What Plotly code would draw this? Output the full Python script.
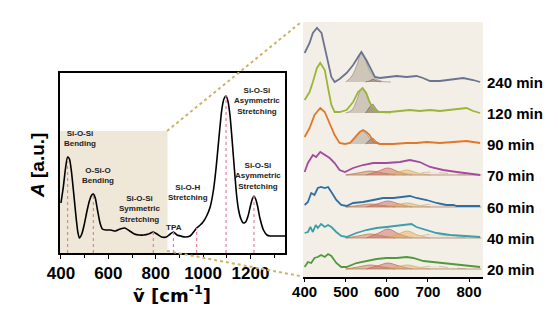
import plotly.graph_objects as go
import numpy as np

# ---------------- Left panel: full FTIR spectrum ----------------
spec_w = [400, 410, 420, 428, 436, 445, 455, 465, 472, 478, 488, 498, 510, 520, 530, 537, 545, 555, 565, 575,
          590, 610, 630, 650, 670, 690, 710, 730, 750, 770, 790, 805, 825, 845, 862, 875, 890, 905, 925, 945,
          960, 973, 988, 1000, 1015, 1030, 1044, 1055, 1065, 1079, 1088, 1097, 1105, 1114, 1121, 1128, 1135,
          1142, 1150, 1160, 1170, 1180, 1190, 1200, 1208, 1215, 1222, 1230, 1240, 1255, 1270, 1283, 1310, 1346]
spec_a = [50, 66, 86, 96, 94, 80, 57, 33, 20, 15, 19, 28, 42, 52, 58, 59, 55, 42, 30, 24,
          23, 23, 22, 24, 25, 22, 19, 18, 18, 19, 21, 19, 16, 16, 19, 21, 18, 17, 16, 17,
          21, 25, 28, 31, 37, 46, 63, 85, 110, 143, 154, 157, 152, 137, 118, 97, 76,
          57, 43, 34, 30, 31, 37, 47, 54, 57, 54, 47, 35, 23, 18, 17, 17, 17]

peak_pos = [428, 537, 790, 875, 973, 1097, 1215]
band_labels = ["Si-O-Si<br>Bending", "O-Si-O<br>Bending", "Si-O-Si<br>Symmetric<br>Stretching", "TPA",
               "Si-O-H<br>Stretching", "Si-O-Si<br>Asymmetric<br>Stretching", "Si-O-Si<br>Asymmetric<br>Stretching"]
label_w = [481, 558, 731, 877, 935, 1227, 1231]
label_a = [115, 78, 44, 26, 61, 152, 77]

# ---------------- Right panel: time series 400-830 cm-1 ----------------
times = ["240 min", "120 min", "90 min", "70 min", "60 min", "40 min", "20 min"]
colors = ["#6B7390", "#9BB53A", "#E0782A", "#A24A9E", "#2F6EA5", "#3A9FA8", "#4E9A3C"]
offsets = [195, 164, 133, 102, 70, 39, 8]

w240 = [400, 412, 420, 430, 441, 449, 457, 465, 473, 485, 502, 518, 530, 538, 550, 563, 571, 583, 599, 624, 648, 672, 688, 705, 729, 754, 786, 810, 827]
a240 = [29, 39, 49, 54, 49, 35, 19, 5, 0, 3, 9, 17, 25, 30, 22, 12, 5, 4, 5, 6, 5, 6, 4, 1, 1, 2, 4, 2, 0]

w120 = [400, 412, 420, 430, 438, 449, 457, 465, 473, 485, 502, 518, 530, 541, 550, 558, 568, 583, 607, 632, 656, 680, 705, 729, 754, 774, 794, 810, 827]
a120 = [13, 21, 31, 45, 50, 43, 25, 8, 1, 1, 3, 11, 21, 25, 20, 11, 3, 1, 1, 2, 3, 2, 3, 2, 3, 4, 5, 2, 0]

w90 = [400, 412, 424, 438, 449, 461, 473, 485, 498, 510, 522, 534, 542, 550, 558, 568, 583, 616, 648, 672, 697, 729, 762, 794, 810, 827]
a90 = [7, 16, 29, 36, 32, 21, 9, 1, 0, 1, 6, 12, 14, 12, 9, 2, 0, 0, 1, 1, 2, 1, 2, 3, 2, 1]

w70 = [400, 408, 420, 428, 438, 449, 461, 473, 485, 498, 518, 542, 567, 599, 632, 656, 680, 705, 737, 770, 794, 827]
a70 = [3, 12, 20, 18, 23, 20, 17, 12, 5, 3, 7, 10, 12, 12, 13, 15, 13, 8, 5, 3, 2, 0]

w60 = [400, 408, 416, 424, 432, 440, 449, 457, 465, 477, 489, 502, 518, 542, 567, 591, 616, 640, 656, 672, 697, 721, 745, 762, 770, 794, 827]
a60 = [2, 5, 14, 12, 19, 20, 19, 20, 15, 7, 2, 1, 4, 5, 7, 9, 9, 10, 11, 9, 7, 4, 2, 2, 1, 1, 1]

w40 = [400, 408, 414, 420, 427, 432, 440, 449, 457, 465, 477, 489, 502, 526, 550, 575, 599, 624, 648, 660, 672, 697, 721, 754, 794, 827]
a40 = [5, 6, 11, 6, 13, 10, 14, 11, 13, 11, 6, 2, 1, 5, 8, 10, 11, 12, 13, 14, 11, 8, 5, 3, 2, 1]

w20 = [400, 408, 416, 424, 432, 440, 449, 457, 465, 477, 489, 502, 526, 550, 575, 599, 624, 648, 664, 689, 713, 745, 778, 802, 827]
a20 = [2, 7, 6, 11, 12, 14, 12, 15, 13, 6, 2, 2, 6, 8, 10, 11, 11, 12, 11, 8, 7, 6, 4, 3, 2]

series_w = [w240, w120, w90, w70, w60, w40, w20]
series_a = [a240, a120, a90, a70, a60, a40, a20]

# fitted components (grey) for 240 / 120 / 90 min
grey_main_w = [500, 515, 528, 538, 548, 560, 575, 590, 610]
grey_main = [[0, 6, 18, 30, 22, 10, 3, 0.5, 0],
             [0, 3, 14, 24, 20, 9, 2, 0.5, 0],
             [0, 2, 8, 13, 11, 5, 1, 0.3, 0]]
grey_small_w = [548, 558, 566, 576, 586]
grey_small = [[0, 1, 3, 1, 0],
              [0, 6, 9, 3, 0],
              [0, 4, 6, 2, 0]]

# fitted components (orange family) for 70 / 60 / 40 / 20 min
comp_w = [[500, 530, 560, 590, 620],
          [550, 580, 603, 630, 660],
          [600, 628, 650, 675, 705],
          [640, 680, 710, 750, 800]]
comp_h = {3: [[0, 2, 4, 2, 0], [0, 4, 7, 3, 0], [0, 3, 5, 2, 0], [0, 2, 3, 1.5, 0]],
          4: [[0, 1.5, 3, 1.5, 0], [0, 3.5, 6, 3, 0], [0, 2.5, 4, 2, 0], [0, 1.5, 3, 1.5, 0]],
          5: [[0, 2, 4, 2, 0], [0, 5, 9, 4, 0], [0, 4, 7, 3, 0], [0, 2, 4, 2, 0]],
          6: [[0, 2, 4, 2, 0], [0, 3.5, 6, 3, 0], [0, 2.5, 4, 2, 0], [0, 1.5, 3, 1.5, 0]]}
comp_fill = ["rgba(200,120,80,0.45)", "rgba(205,110,100,0.5)", "rgba(228,178,95,0.5)", "rgba(235,210,185,0.35)"]
comp_line = ["rgba(190,110,70,0.7)", "rgba(190,100,90,0.7)", "rgba(215,165,85,0.7)", "rgba(200,185,170,0.8)"]

tick_right = [400, 500, 600, 700, 800]
tick_left = [400, 600, 800, 1000, 1200]

W, H = 558, 326
fig = go.Figure()

# left spectrum
fig.add_trace(go.Scatter(x=spec_w, y=spec_a, mode="lines", line=dict(color="black", width=1.6, shape="spline", smoothing=0.6),
                         xaxis="x", yaxis="y", hoverinfo="skip"))
for p in peak_pos:
    top = float(np.interp(p, spec_w, spec_a))
    fig.add_trace(go.Scatter(x=[p, p], y=[0, top], mode="lines", line=dict(color="#E2809C", width=1.2, dash="dot"),
                             xaxis="x", yaxis="y", hoverinfo="skip"))
for txt, xw, ya in zip(band_labels, label_w, label_a):
    fig.add_annotation(x=xw, y=ya, xref="x", yref="y", text="<b>" + txt + "</b>", showarrow=False,
                       xanchor="center", yanchor="middle",
                       font=dict(family="Liberation Sans, Arial", size=8, color="#222"), align="center")

# right panel components
for i in range(3):
    off = offsets[i]
    fig.add_trace(go.Scatter(x=grey_main_w, y=[v + off for v in grey_main[i]], mode="lines",
                             line=dict(color="rgba(140,128,115,0.6)", width=1, shape="spline"),
                             fill="toself", fillcolor="rgba(160,148,130,0.45)", xaxis="x2", yaxis="y2", hoverinfo="skip"))
    fig.add_trace(go.Scatter(x=grey_small_w, y=[v + off for v in grey_small[i]], mode="lines",
                             line=dict(color="rgba(120,95,85,0.6)", width=1),
                             fill="toself", fillcolor="rgba(130,105,95,0.5)", xaxis="x2", yaxis="y2", hoverinfo="skip"))
for i in range(3, 7):
    off = offsets[i]
    for k in range(4):
        fig.add_trace(go.Scatter(x=comp_w[k], y=[v + off for v in comp_h[i][k]], mode="lines",
                                 line=dict(color=comp_line[k], width=1, shape="spline", dash="dash" if k == 3 else "solid"),
                                 fill="toself", fillcolor=comp_fill[k], xaxis="x2", yaxis="y2", hoverinfo="skip"))
    fig.add_trace(go.Scatter(x=[500, 830], y=[off, off], mode="lines", line=dict(color="rgba(170,120,90,0.7)", width=1.2),
                             xaxis="x2", yaxis="y2", hoverinfo="skip"))

for i in range(7):
    off = offsets[i]
    fig.add_trace(go.Scatter(x=series_w[i], y=[v + off for v in series_a[i]], mode="lines",
                             line=dict(color=colors[i], width=1.8), xaxis="x2", yaxis="y2", hoverinfo="skip"))
    fig.add_annotation(x=485 / W, y=off, xref="paper", yref="y2", text="<b>" + times[i] + "</b>", showarrow=False,
                       xanchor="left", yanchor="middle", font=dict(family="Liberation Sans, Arial", size=15, color="black"))

# backgrounds
fig.add_shape(type="rect", xref="x", yref="y", x0=396, x1=850, y0=0, y1=122, fillcolor="#EFE8D8",
              line=dict(width=0), layer="below")
fig.add_shape(type="rect", xref="paper", yref="paper", x0=303 / W, x1=483 / W, y0=1 - 277 / H, y1=1 - 22 / H,
              fillcolor="#F3EFE6", line=dict(width=0), layer="below")
# connector dotted lines
for (x0, y0, x1, y1) in [(167, 131, 300, 23), (167, 251, 300, 276)]:
    fig.add_shape(type="line", xref="paper", yref="paper", x0=x0 / W, y0=1 - y0 / H, x1=x1 / W, y1=1 - y1 / H,
                  line=dict(color="#CDB368", width=2, dash="dot"))

# axis titles
fig.add_annotation(x=172 / W, y=1 - 294 / H, xref="paper", yref="paper", text="<b>\u1e7d [cm<sup>-1</sup>]</b>", showarrow=False,
                   xanchor="center", yanchor="middle",
                   font=dict(family="DejaVu Sans, Liberation Sans", size=18, color="black"))
fig.add_annotation(x=38 / W, y=1 - 166 / H, xref="paper", yref="paper", text="<b><i>A</i> [a.u.]</b>", showarrow=False,
                   xanchor="center", yanchor="middle",
                   textangle=-90, font=dict(family="Liberation Sans, Arial", size=19, color="black"))

fig.update_layout(
    width=W, height=H, margin=dict(l=0, r=0, t=0, b=0, pad=0, autoexpand=False),
    paper_bgcolor="white", plot_bgcolor="rgba(0,0,0,0)", showlegend=False,
    xaxis=dict(domain=[60 / W, 285 / W], range=[396, 1346], showline=True, linecolor="black", linewidth=1.5, mirror=True,
               showgrid=False, zeroline=False, ticks="outside", ticklen=4, tickcolor="black",
               tickvals=tick_left, ticktext=["<b>%d</b>" % t for t in tick_left],
               minor=dict(tickvals=[500, 700, 900, 1100, 1300], ticks="outside", ticklen=3, tickcolor="black"),
               tickfont=dict(family="Liberation Sans, Arial", size=17, color="black")),
    yaxis=dict(domain=[1 - 253 / H, 1 - 73 / H], range=[0, 180], showline=True, linecolor="black", linewidth=1.5, mirror=True,
               showgrid=False, zeroline=False, showticklabels=False, ticks=""),
    xaxis2=dict(domain=[303 / W, 483 / W], range=[396, 834], anchor="y2", showline=True, linecolor="black", linewidth=2,
                showgrid=False, zeroline=False, ticks="outside", ticklen=3, tickcolor="black", ticklabelstandoff=-3,
                tickvals=tick_right, ticktext=["<b>%d</b>" % t for t in tick_right],
                tickfont=dict(family="Liberation Sans, Arial", size=15, color="black")),
    yaxis2=dict(domain=[1 - 277 / H, 1 - 22 / H], range=[0, 255], anchor="x2", visible=False),
)

fig.write_html("out.html", post_script="document.body.style.margin='0px';")
